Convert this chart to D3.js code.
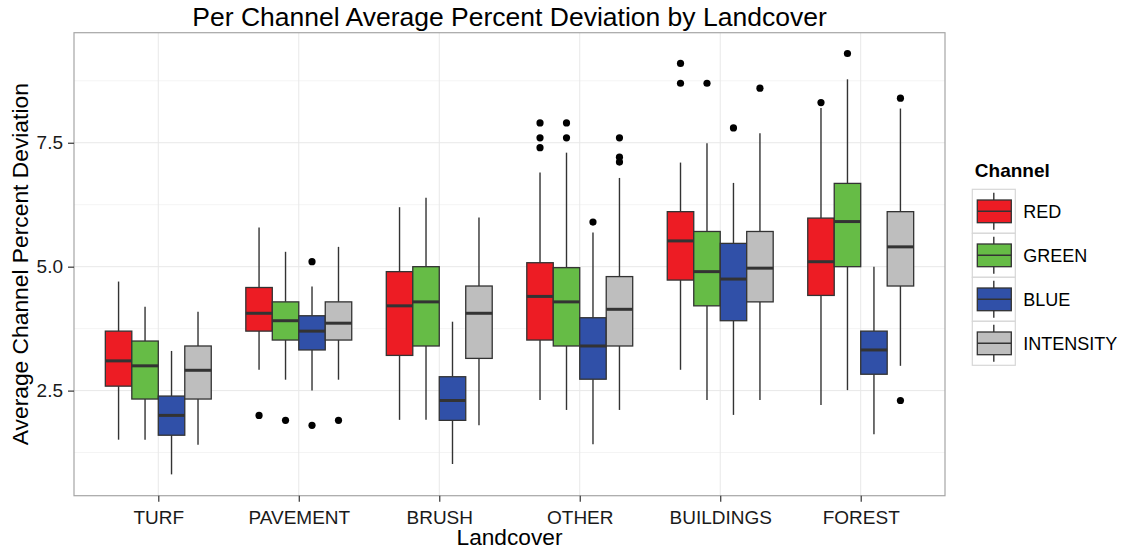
<!DOCTYPE html>
<html>
<head>
<meta charset="utf-8">
<script src="https://cdn.jsdelivr.net/npm/d3@7"></script>
<style>
  html, body { margin: 0; padding: 0; background: #fff; }
  svg { display: block; font-family: "Liberation Sans", Arial, Helvetica, sans-serif; }
</style>
</head>
<body>
<svg id="chart" width="1131" height="550"></svg>
<script>
// Landcover classes and colour channels
const landcover = ["TURF", "PAVEMENT", "BRUSH", "OTHER", "BUILDINGS", "FOREST"];
const channels = ["RED", "GREEN", "BLUE", "INTENSITY"];
const channelColors = ["#ED1C24", "#66BC46", "#3050A8", "#BEBEBE"];

// Box statistics, one row per landcover, one column per channel
const whiskerLow = [
  [1.51, 1.51, 0.81, 1.41],
  [2.92, 2.72, 2.50, 2.72],
  [1.91, 1.91, 1.02, 1.80],
  [2.31, 2.11, 1.42, 2.11],
  [2.92, 2.31, 2.01, 2.31],
  [2.21, 2.51, 1.62, 3.00]
];
const q1 = [
  [2.59, 2.33, 1.60, 2.33],
  [3.70, 3.52, 3.32, 3.52],
  [3.21, 3.40, 1.90, 3.15],
  [3.52, 3.40, 2.73, 3.40],
  [4.73, 4.21, 3.91, 4.29],
  [4.42, 5.00, 2.83, 4.61]
];
const median = [
  [3.10, 3.00, 2.00, 2.91],
  [4.06, 3.91, 3.70, 3.86],
  [4.21, 4.29, 2.30, 4.06],
  [4.40, 4.29, 3.40, 4.14],
  [5.52, 4.90, 4.75, 4.97],
  [5.10, 5.91, 3.32, 5.40]
];
const q3 = [
  [3.70, 3.50, 2.39, 3.40],
  [4.58, 4.29, 4.01, 4.29],
  [4.90, 5.00, 2.78, 4.61],
  [5.08, 4.98, 3.97, 4.80],
  [6.11, 5.71, 5.47, 5.71],
  [5.98, 6.68, 3.70, 6.11]
];
const whiskerHigh = [
  [4.70, 4.19, 3.30, 4.09],
  [5.79, 5.30, 4.60, 5.40],
  [6.20, 6.39, 3.89, 5.99],
  [6.90, 7.30, 5.69, 6.79],
  [7.10, 7.49, 6.69, 7.69],
  [8.20, 8.78, 5.00, 8.19]
];
// Outlying points: [landcover, channel, value]
const outliers = [
  ["PAVEMENT", "RED", 2.00], ["PAVEMENT", "GREEN", 1.90],
  ["PAVEMENT", "BLUE", 1.80], ["PAVEMENT", "BLUE", 5.10],
  ["PAVEMENT", "INTENSITY", 1.90],
  ["OTHER", "RED", 7.90], ["OTHER", "RED", 7.60], ["OTHER", "RED", 7.40],
  ["OTHER", "GREEN", 7.90], ["OTHER", "GREEN", 7.60],
  ["OTHER", "BLUE", 5.90],
  ["OTHER", "INTENSITY", 7.60], ["OTHER", "INTENSITY", 7.21], ["OTHER", "INTENSITY", 7.11],
  ["BUILDINGS", "RED", 9.10], ["BUILDINGS", "RED", 8.70],
  ["BUILDINGS", "GREEN", 8.70], ["BUILDINGS", "BLUE", 7.80],
  ["BUILDINGS", "INTENSITY", 8.60],
  ["FOREST", "RED", 8.31], ["FOREST", "GREEN", 9.30],
  ["FOREST", "INTENSITY", 8.40], ["FOREST", "INTENSITY", 2.30]
];
const yTicks = [2.5, 5.0, 7.5];
const yMinorTicks = [1.25, 3.75, 6.25, 8.75];

const svg = d3.select("#chart");
const panel = { left: 74, right: 945, top: 32.7, bottom: 495.7 };

const x = d3.scalePoint().domain(landcover).range([panel.left, panel.right]).padding(0.6);
const dodge = d3.scaleBand().domain(channels).range([-0.377 * x.step(), 0.377 * x.step()]);
const y = d3.scaleLinear().domain([0.38, 9.72]).range([panel.bottom, panel.top]);
const color = d3.scaleOrdinal().domain(channels).range(channelColors);

// Panel background and grid
svg.append("rect").attr("x", panel.left).attr("y", panel.top)
  .attr("width", panel.right - panel.left).attr("height", panel.bottom - panel.top)
  .attr("fill", "#fff");
const grid = svg.append("g");
grid.selectAll(".minor").data(yMinorTicks).join("line")
  .attr("x1", panel.left).attr("x2", panel.right)
  .attr("y1", d => y(d)).attr("y2", d => y(d))
  .attr("stroke", "#F4F4F4").attr("stroke-width", 1);
grid.selectAll(".majorY").data(yTicks).join("line")
  .attr("x1", panel.left).attr("x2", panel.right)
  .attr("y1", d => y(d)).attr("y2", d => y(d))
  .attr("stroke", "#E8E8E8").attr("stroke-width", 1);
grid.selectAll(".majorX").data(landcover).join("line")
  .attr("x1", d => x(d)).attr("x2", d => x(d))
  .attr("y1", panel.top).attr("y2", panel.bottom)
  .attr("stroke", "#E8E8E8").attr("stroke-width", 1);

// Boxplots
const boxes = [];
landcover.forEach((lc, i) => channels.forEach((ch, j) => boxes.push({
  lc, ch, lo: whiskerLow[i][j], q1: q1[i][j], med: median[i][j], q3: q3[i][j], hi: whiskerHigh[i][j]
})));
const bw = dodge.bandwidth();
const boxG = svg.append("g").selectAll("g").data(boxes).join("g")
  .attr("transform", d => `translate(${x(d.lc) + dodge(d.ch)},0)`);
boxG.append("line").attr("x1", bw / 2).attr("x2", bw / 2)
  .attr("y1", d => y(d.hi)).attr("y2", d => y(d.q3))
  .attr("stroke", "#333").attr("stroke-width", 1.4);
boxG.append("line").attr("x1", bw / 2).attr("x2", bw / 2)
  .attr("y1", d => y(d.q1)).attr("y2", d => y(d.lo))
  .attr("stroke", "#333").attr("stroke-width", 1.4);
boxG.append("rect").attr("x", 0).attr("width", bw)
  .attr("y", d => y(d.q3)).attr("height", d => y(d.q1) - y(d.q3))
  .attr("fill", d => color(d.ch)).attr("stroke", "#333").attr("stroke-width", 1.3);
boxG.append("line").attr("x1", 0).attr("x2", bw)
  .attr("y1", d => y(d.med)).attr("y2", d => y(d.med))
  .attr("stroke", "#333").attr("stroke-width", 3);

svg.append("g").selectAll("circle").data(outliers).join("circle")
  .attr("cx", d => x(d[0]) + dodge(d[1]) + bw / 2)
  .attr("cy", d => y(d[2]))
  .attr("r", 3.6).attr("fill", "#000");

// Panel border
svg.append("rect").attr("x", panel.left).attr("y", panel.top)
  .attr("width", panel.right - panel.left).attr("height", panel.bottom - panel.top)
  .attr("fill", "none").attr("stroke", "#A6A6A6").attr("stroke-width", 1.2);

// Axes
const yAxis = svg.append("g").attr("transform", `translate(${panel.left},0)`)
  .call(d3.axisLeft(y).tickValues(yTicks).tickFormat(d3.format(".1f")).tickSize(6).tickPadding(5));
const xAxis = svg.append("g").attr("transform", `translate(0,${panel.bottom})`)
  .call(d3.axisBottom(x).tickSize(6).tickPadding(9));
[yAxis, xAxis].forEach(a => {
  a.select(".domain").remove();
  a.selectAll(".tick line").attr("stroke", "#333").attr("stroke-width", 1.2);
  a.selectAll(".tick text").attr("fill", "#1a1a1a").attr("font-size", 19)
    .attr("font-family", "Liberation Sans, Arial, sans-serif");
});

// Titles
svg.append("text").attr("x", (panel.left + panel.right) / 2).attr("y", 26)
  .attr("text-anchor", "middle").attr("font-size", 26.5).attr("fill", "#000")
  .text("Per Channel Average Percent Deviation by Landcover");
svg.append("text").attr("x", (panel.left + panel.right) / 2).attr("y", 545)
  .attr("text-anchor", "middle").attr("font-size", 22.7).attr("fill", "#000")
  .text("Landcover");
svg.append("text")
  .attr("transform", `translate(28,${(panel.top + panel.bottom) / 2}) rotate(-90)`)
  .attr("text-anchor", "middle").attr("font-size", 22.8).attr("fill", "#000")
  .text("Average Channel Percent Deviation");

// Legend
const legend = svg.append("g").attr("transform", "translate(972.3,189.3)");
legend.append("text").attr("x", 2.5).attr("y", -12.6)
  .attr("font-size", 19).attr("font-weight", "bold").attr("fill", "#000").text("Channel");
const keyW = 43, keyH = 44;
const key = legend.selectAll("g").data(channels).join("g")
  .attr("transform", (d, i) => `translate(0,${i * keyH})`);
key.append("rect").attr("width", keyW).attr("height", keyH)
  .attr("fill", "#fff").attr("stroke", "#D6D6D6").attr("stroke-width", 1.2);
key.append("line").attr("x1", keyW / 2).attr("x2", keyW / 2).attr("y1", 3.5).attr("y2", keyH - 3.5)
  .attr("stroke", "#333").attr("stroke-width", 1.4);
key.append("rect").attr("x", 5).attr("y", 10.7).attr("width", 34).attr("height", 22.7)
  .attr("fill", d => color(d)).attr("stroke", "#333").attr("stroke-width", 1.3);
key.append("line").attr("x1", 5).attr("x2", 39).attr("y1", 22).attr("y2", 22)
  .attr("stroke", "#333").attr("stroke-width", 1.6);
key.append("text").attr("x", 51).attr("y", keyH / 2).attr("dy", "0.35em")
  .attr("font-size", 18).attr("fill", "#000").text(d => d);
</script>
</body>
</html>
